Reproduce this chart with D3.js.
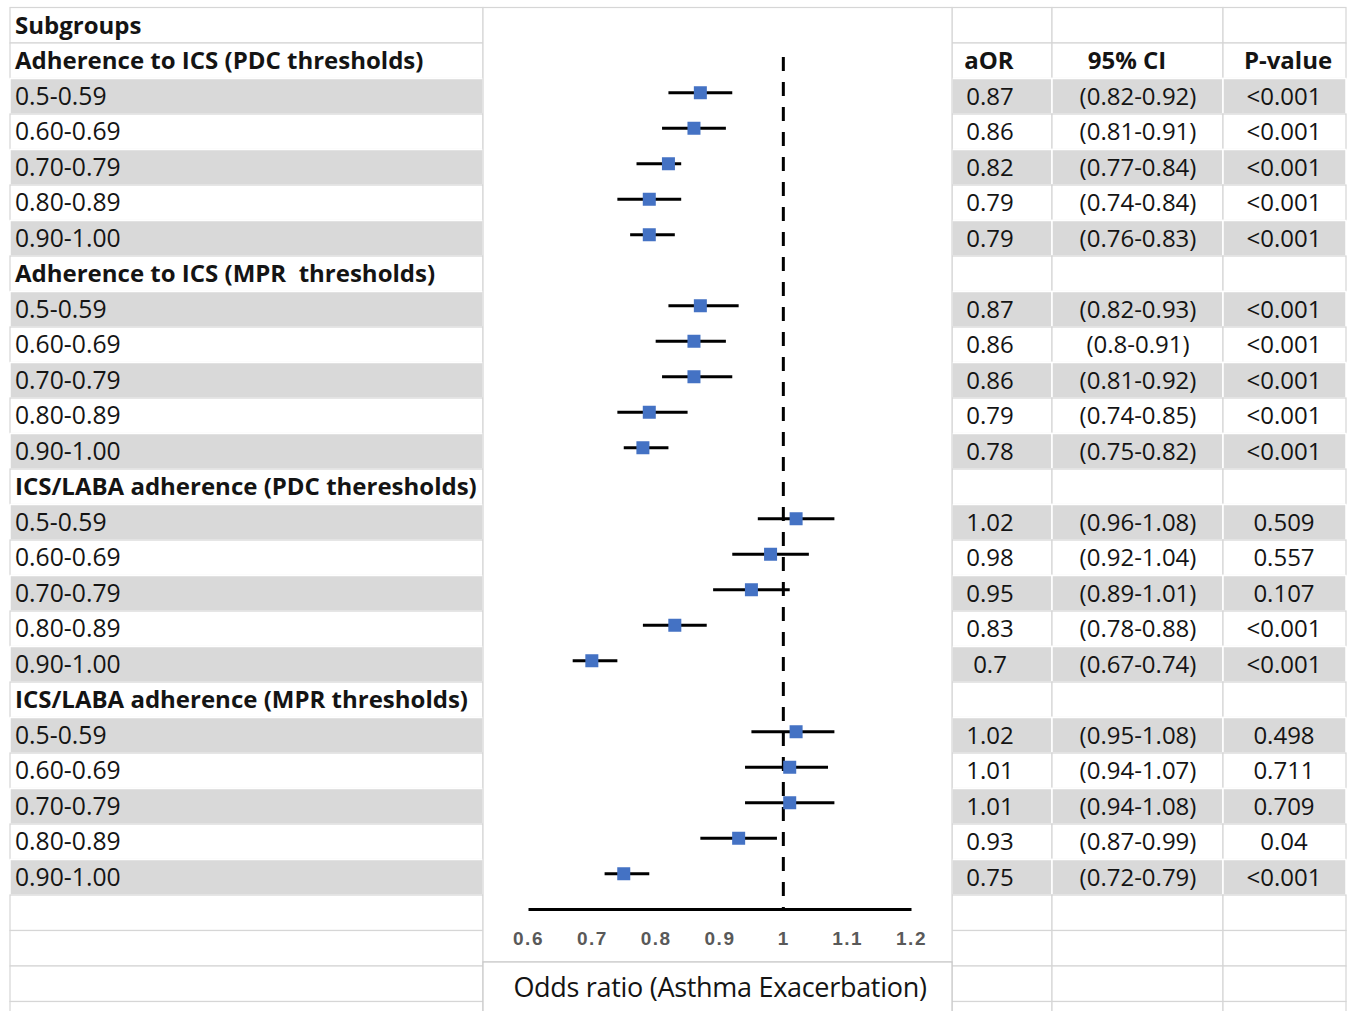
<!DOCTYPE html>
<html>
<head>
<meta charset="utf-8">
<script src="https://cdn.jsdelivr.net/npm/d3@7/dist/d3.min.js"></script>
<style>
  body { margin: 0; background: #fff; }
  svg text { white-space: pre; }
</style>
</head>
<body>
<div id="chart"></div>
<script>
// ---- data ----
const groupNames = [
  "Adherence to ICS (PDC thresholds)",
  "Adherence to ICS (MPR  thresholds)",
  "ICS/LABA adherence (PDC theresholds)",
  "ICS/LABA adherence (MPR thresholds)"
];
const thresholds = ["0.5-0.59", "0.60-0.69", "0.70-0.79", "0.80-0.89", "0.90-1.00"];

const aorValues = [
  0.87, 0.86, 0.82, 0.79, 0.79,
  0.87, 0.86, 0.86, 0.79, 0.78,
  1.02, 0.98, 0.95, 0.83, 0.7,
  1.02, 1.01, 1.01, 0.93, 0.75
];
const ciLower = [
  0.82, 0.81, 0.77, 0.74, 0.76,
  0.82, 0.8, 0.81, 0.74, 0.75,
  0.96, 0.92, 0.89, 0.78, 0.67,
  0.95, 0.94, 0.94, 0.87, 0.72
];
const ciUpper = [
  0.92, 0.91, 0.84, 0.84, 0.83,
  0.93, 0.91, 0.92, 0.85, 0.82,
  1.08, 1.04, 1.01, 0.88, 0.74,
  1.08, 1.07, 1.08, 0.99, 0.79
];
const pValues = [
  "<0.001", "<0.001", "<0.001", "<0.001", "<0.001",
  "<0.001", "<0.001", "<0.001", "<0.001", "<0.001",
  "0.509", "0.557", "0.107", "<0.001", "<0.001",
  "0.498", "0.711", "0.709", "0.04", "<0.001"
];
const axisTicks = [0.6, 0.7, 0.8, 0.9, 1, 1.1, 1.2];

// ---- build the table rows ----
const rows = [{ type: "title", label: "Subgroups" }];
groupNames.forEach((g, gi) => {
  rows.push({ type: "group", label: g });
  thresholds.forEach((t, ti) => {
    const k = gi * 5 + ti;
    rows.push({
      type: "item", label: t, shaded: ti % 2 === 0,
      aor: aorValues[k], lo: ciLower[k], hi: ciUpper[k], p: pValues[k]
    });
  });
});
while (rows.length < 29) rows.push({ type: "blank", label: "" });

const width = 1352, height = 1011;
const rowH = 35.5, tableTop = 7.5;
const leftCol = [10, 483];
const plotCol = [483, 952];
const rightCols = [[952, 1052], [1052, 1223], [1223, 1346]];
const headerCenters = [989, 1127, 1288];
const valueCenters = [990, 1138, 1284];
const gridColor = "#d6d6d6", shade = "#d9d9d9", ink = "#141414";
const font = "'Open Sans', 'Noto Sans', sans-serif";
const fs = 24, baseOff = 8.4;

const yRow = d3.scaleBand()
  .domain(d3.range(rows.length))
  .range([tableTop, tableTop + rowH * rows.length])
  .padding(0);

const svg = d3.select("#chart").append("svg")
  .attr("width", width).attr("height", height)
  .style("font-family", font);

svg.append("rect").attr("width", width).attr("height", height).attr("fill", "#fff");

// table cells (left label column and three right columns)
const cellCols = [leftCol].concat(rightCols);
rows.forEach((r, i) => {
  cellCols.forEach(c => {
    svg.append("rect")
      .attr("x", c[0]).attr("y", yRow(i))
      .attr("width", c[1] - c[0]).attr("height", rowH)
      .attr("fill", r.shaded ? shade : "#fff")
      .attr("stroke", r.shaded ? "#fff" : gridColor)
      .attr("stroke-width", r.shaded ? 1.5 : 1.2);
  });
});

// left labels
svg.append("g").selectAll("text")
  .data(rows)
  .join("text")
  .attr("x", 15)
  .attr("y", (d, i) => yRow(i) + rowH / 2 + baseOff)
  .attr("fill", ink)
  .style("font-size", d => (d.type === "item" ? fs + 0.7 : fs) + "px")
  .style("font-weight", d => (d.type === "title" || d.type === "group") ? 700 : 400)
  .text(d => d.label);

// right column header
["aOR", "95% CI", "P-value"].forEach((h, j) => {
  svg.append("text")
    .attr("x", headerCenters[j]).attr("y", yRow(1) + rowH / 2 + baseOff)
    .attr("text-anchor", "middle").attr("fill", ink)
    .style("font-size", fs + "px").style("font-weight", 700)
    .text(h);
});

// right column values
const items = rows.map((r, i) => ({ ...r, i })).filter(r => r.type === "item");
const valueText = [
  d => String(d.aor),
  d => "(" + d.lo + "-" + d.hi + ")",
  d => d.p
];
valueText.forEach((fn, j) => {
  svg.append("g").selectAll("text")
    .data(items)
    .join("text")
    .attr("x", valueCenters[j])
    .attr("y", d => yRow(d.i) + rowH / 2 + baseOff)
    .attr("text-anchor", "middle").attr("fill", ink)
    .style("font-size", fs + "px")
    .text(fn);
});

// ---- forest plot area ----
const plotTop = tableTop, plotBottom = 962;
svg.append("rect")
  .attr("x", plotCol[0]).attr("y", plotTop)
  .attr("width", plotCol[1] - plotCol[0]).attr("height", plotBottom - plotTop)
  .attr("fill", "#fff").attr("stroke", gridColor).attr("stroke-width", 1.2);

// axis-title cell
svg.append("rect")
  .attr("x", plotCol[0]).attr("y", plotBottom)
  .attr("width", plotCol[1] - plotCol[0]).attr("height", 60)
  .attr("fill", "#fff").attr("stroke", "#c8c8c8").attr("stroke-width", 1.2);
svg.append("text")
  .attr("x", 720).attr("y", 997)
  .attr("text-anchor", "middle").attr("fill", ink)
  .style("font-size", "27px").style("letter-spacing", "-0.3px")
  .text("Odds ratio (Asthma Exacerbation)");

const x = d3.scaleLinear().domain([0.6, 1.2]).range([528, 911]);
const axisY = 909;
const pointY = i => yRow(i) + rowH / 2 - 3.5;

// reference line at OR = 1
svg.append("line")
  .attr("x1", x(1)).attr("x2", x(1))
  .attr("y1", 57).attr("y2", axisY)
  .attr("stroke", "#000").attr("stroke-width", 3)
  .attr("stroke-dasharray", "14,11");

// x axis
const axisG = svg.append("g")
  .attr("transform", `translate(0,${axisY})`)
  .call(d3.axisBottom(x).tickValues(axisTicks).tickSize(0).tickSizeOuter(0)
    .tickFormat(d => String(+d.toFixed(1))));
axisG.select(".domain").attr("stroke", "#000").attr("stroke-width", 3);
axisG.selectAll(".tick text")
  .attr("y", 23)
  .attr("fill", "#595959")
  .style("font-family", "'Liberation Sans', Arial, sans-serif")
  .style("font-size", "19px").style("font-weight", 700)
  .style("letter-spacing", "1.5px");

// whiskers and point boxes
const forest = svg.append("g");
forest.selectAll("line.ci")
  .data(items)
  .join("line")
  .attr("class", "ci")
  .attr("x1", d => x(d.lo)).attr("x2", d => x(d.hi))
  .attr("y1", d => pointY(d.i)).attr("y2", d => pointY(d.i))
  .attr("stroke", "#000").attr("stroke-width", 3);
const box = 13;
forest.selectAll("rect.pt")
  .data(items)
  .join("rect")
  .attr("class", "pt")
  .attr("x", d => x(d.aor) - box / 2)
  .attr("y", d => pointY(d.i) - box / 2)
  .attr("width", box).attr("height", box)
  .attr("fill", "#4472c4");
</script>
</body>
</html>
